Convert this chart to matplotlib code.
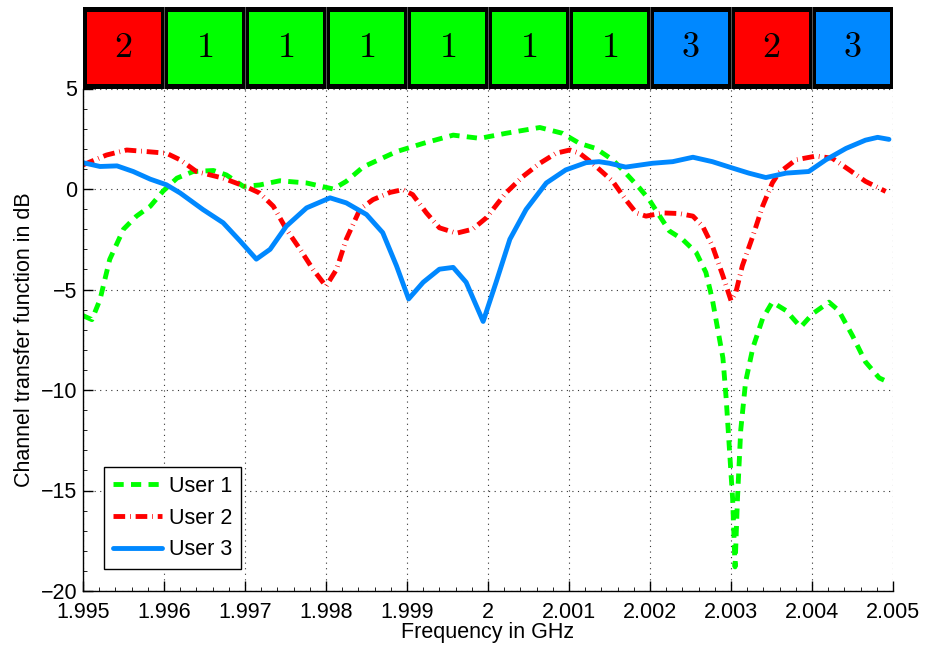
import matplotlib
matplotlib.use("Agg")
import matplotlib.pyplot as plt
from matplotlib.patches import Rectangle
from matplotlib.ticker import MultipleLocator

plt.rcParams['font.family'] = ['Liberation Sans', 'DejaVu Sans']
plt.rcParams['mathtext.fontset'] = 'cm'

# ---------------- data ----------------
f_user1 = [1.99500, 1.99511, 1.99521, 1.99533, 1.99550, 1.99566, 1.99583, 1.99599,
           1.99616, 1.99636, 1.99661, 1.99677, 1.99698, 1.99718, 1.99743, 1.99776,
           1.99809, 1.99825, 1.99846, 1.99887, 1.99920, 1.99957, 1.99990, 2.00022,
           2.00064, 2.00092, 2.00113, 2.00133, 2.00154, 2.00170, 2.00187, 2.00199,
           2.00212, 2.00224, 2.00240, 2.00257, 2.00269, 2.00277, 2.00290, 2.00294,
           2.00298, 2.00302, 2.00305, 2.00308, 2.00312, 2.00318, 2.00327, 2.00339,
           2.00351, 2.00368, 2.00386, 2.00401, 2.00421, 2.00433, 2.00450, 2.00466,
           2.00483, 2.00497]
h_user1 = [-6.3, -6.5, -5.5, -3.5, -2.0, -1.35, -0.86, -0.1,
           0.54, 0.87, 0.92, 0.7, 0.13, 0.2, 0.41, 0.3,
           0.0, 0.38, 1.1, 1.86, 2.27, 2.68, 2.52, 2.77,
           3.06, 2.77, 2.27, 2.02, 1.45, 0.79, 0.05, -0.53,
           -1.35, -2.09, -2.5, -3.16, -4.15, -5.5, -8.4, -10.4,
           -12.9, -15.4, -18.8, -15.4, -12.0, -9.6, -7.9, -6.45,
           -5.63, -6.05, -6.87, -6.2, -5.63, -6.05, -7.3, -8.6,
           -9.4, -9.66]

f_user2 = [1.99500, 1.99529, 1.99554, 1.99579, 1.99603, 1.99620, 1.99640, 1.99673,
           1.99702, 1.99718, 1.99735, 1.99751, 1.99768, 1.99784, 1.99800, 1.99813,
           1.99825, 1.99842, 1.99858, 1.99879, 1.99895, 1.99907, 1.99924, 1.99940,
           1.99961, 1.99981, 1.99998, 2.00022, 2.00043, 2.00064, 2.00084, 2.00101,
           2.00113, 2.00129, 2.00154, 2.00170, 2.00183, 2.00195, 2.00216, 2.00236,
           2.00253, 2.00265, 2.00277, 2.00290, 2.00300, 2.00306, 2.00314, 2.00327,
           2.00339, 2.00351, 2.00359, 2.00380, 2.00405, 2.00425, 2.00446, 2.00466,
           2.00491]
h_user2 = [1.2, 1.69, 1.94, 1.86, 1.78, 1.45, 0.87, 0.54,
           0.1, -0.2, -0.86, -2.0, -3.0, -4.0, -4.84, -4.0,
           -2.5, -1.0, -0.53, -0.17, -0.03, -0.28, -1.19, -1.93,
           -2.2, -2.0, -1.43, -0.2, 0.62, 1.28, 1.78, 1.94,
           1.78, 1.28, 0.38, -0.53, -1.19, -1.35, -1.19, -1.22,
           -1.35, -1.85, -2.83, -4.32, -5.55, -5.14, -3.82, -2.34,
           -0.86, 0.3, 0.8, 1.45, 1.64, 1.53, 0.95, 0.38,
           -0.12]

f_user3 = [1.99500, 1.99521, 1.99542, 1.99562, 1.99583, 1.99603, 1.99620, 1.99648,
           1.99673, 1.99694, 1.99714, 1.99731, 1.99751, 1.99776, 1.99805, 1.99825,
           1.99850, 1.99870, 1.99887, 1.99902, 1.99920, 1.99940, 1.99957, 1.99973,
           1.99994, 2.00010, 2.00027, 2.00047, 2.00072, 2.00096, 2.00121, 2.00137,
           2.00150, 2.00170, 2.00203, 2.00228, 2.00253, 2.00277, 2.00302, 2.00322,
           2.00343, 2.00368, 2.00396, 2.00417, 2.00442, 2.00466, 2.00481, 2.00495]
h_user3 = [1.31, 1.12, 1.15, 0.87, 0.49, 0.21, -0.2, -1.02,
           -1.68, -2.59, -3.49, -3.0, -1.85, -0.94, -0.44, -0.69,
           -1.27, -2.17, -3.82, -5.47, -4.64, -3.99, -3.9, -4.64,
           -6.59, -4.64, -2.5, -1.02, 0.3, 0.95, 1.31, 1.36,
           1.28, 1.09, 1.28, 1.36, 1.58, 1.36, 1.04, 0.79,
           0.57, 0.79, 0.87, 1.45, 2.02, 2.43, 2.57, 2.47]

series_labels = ["User 1", "User 2", "User 3"]
band_users = [2, 1, 1, 1, 1, 1, 1, 3, 2, 3]

x_ticks = [1.995, 1.996, 1.997, 1.998, 1.999, 2.000, 2.001, 2.002, 2.003, 2.004, 2.005]
x_tick_labels = ["1.995", "1.996", "1.997", "1.998", "1.999", "2", "2.001", "2.002",
                 "2.003", "2.004", "2.005"]
y_ticks = [-20, -15, -10, -5, 0, 5]
y_tick_labels = ["\u221220", "\u221215", "\u221210", "\u22125", "0", "5"]

# ---------------- style ----------------
GREEN = '#00ff00'
RED = '#ff0000'
BLUE = '#0088ff'
user_colors = {1: GREEN, 2: RED, 3: BLUE}
FS = 15.5

W, H = 925, 645
fig = plt.figure(figsize=(W / 100, H / 100), dpi=100)

ax_l, ax_r, ax_t, ax_b = 83, 893, 88.5, 591
ax = fig.add_axes([ax_l / W, 1 - ax_b / H, (ax_r - ax_l) / W, (ax_b - ax_t) / H])

lw = 3.5
l1, = ax.plot(f_user1, h_user1, color=GREEN, lw=lw, linestyle=(0, (2.1, 1.5)),
              label=series_labels[0])
l2, = ax.plot(f_user2, h_user2, color=RED, lw=lw, linestyle=(0, (2.4, 1.0, 0.15, 1.0)),
              label=series_labels[1])
l3, = ax.plot(f_user3, h_user3, color=BLUE, lw=lw, linestyle='-',
              label=series_labels[2], solid_capstyle='round')

ax.set_xlim(1.995, 2.005)
ax.set_ylim(-20, 5)
ax.set_xticks(x_ticks, x_tick_labels)
ax.set_yticks(y_ticks, y_tick_labels)
ax.xaxis.set_minor_locator(MultipleLocator(0.0002))
ax.yaxis.set_minor_locator(MultipleLocator(1))
ax.tick_params(which='major', direction='in', length=7, width=1.0, labelsize=FS,
               top=False, right=False)
ax.tick_params(axis='x', which='major', pad=8)
ax.tick_params(axis='y', which='major', pad=4)
ax.tick_params(which='minor', direction='in', length=3, width=0.6, top=False, right=False)
ax.grid(True, which='major', linestyle=(0, (1, 4)), color='#333333', linewidth=0.8)
for s in ['top', 'right']:
    ax.spines[s].set_visible(False)
for s in ['left', 'bottom']:
    ax.spines[s].set_linewidth(1.0)

ax.set_xlabel("Frequency in GHz", fontsize=FS, labelpad=-1)
ax.set_ylabel("Channel transfer function in dB", fontsize=FS, labelpad=4)

leg = ax.legend(handles=[l1, l2, l3], loc='lower left',
                bbox_to_anchor=(0.026, 0.044), fontsize=FS, frameon=True,
                fancybox=False, edgecolor='black', framealpha=1,
                handlelength=2.3, handletextpad=0.3, labelspacing=0.5,
                borderpad=0.4, borderaxespad=0)
leg.get_frame().set_linewidth(1.0)

# ---------------- top band ----------------
band_top, band_bot = 7, 88.5
bax = fig.add_axes([ax_l / W, 1 - band_bot / H, (ax_r - ax_l) / W, (band_bot - band_top) / H])
bax.set_xlim(0, len(band_users))
bax.set_ylim(0, 1)
bax.set_facecolor('black')
bax.set_xticks([])
bax.set_yticks([])
for s in bax.spines.values():
    s.set_visible(False)
ix = 3.5 / 81.0
iy_top = 4.7 / 81.5
iy_bot = 4.3 / 81.5
for i, u in enumerate(band_users):
    bax.add_patch(Rectangle((i + ix, iy_bot), 1 - 2 * ix, 1 - iy_top - iy_bot,
                            facecolor=user_colors[u], edgecolor='none'))
    bax.text(i + 0.5, 0.5 - (iy_top - iy_bot) / 2, r'$%d$' % u, ha='center', va='center',
             fontsize=26, color='black')
for i in range(1, len(band_users)):
    bax.axvline(i, color='#666666', lw=0.6)

fig.savefig("out.png", dpi=100)
